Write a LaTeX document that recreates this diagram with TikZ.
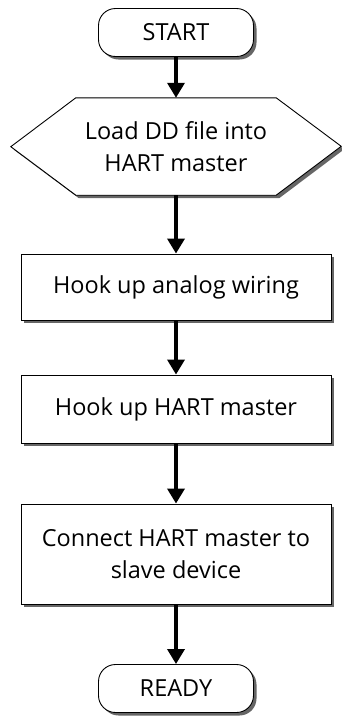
\documentclass[tikz,border=0pt]{standalone}
\usepackage{fontspec}
\setmainfont{Open Sans}
\usetikzlibrary{arrows.meta,shadows,backgrounds}

\tikzset{
  myshadow/.style={drop shadow={shadow xshift=3pt,shadow yshift=-3pt,fill=black!60,opacity=1}},
  stepbox/.style={draw,fill=white,line width=0.9pt,minimum width=310pt,align=center,myshadow},
  termbox/.style={draw,fill=white,line width=0.9pt,rounded corners=17pt,minimum width=155pt,minimum height=48pt,myshadow},
  hexbox/.style={draw,fill=white,line width=0.9pt,myshadow},
  flow/.style={line width=3.5pt,-{Triangle[width=17pt,length=15pt]}}
}

\begin{document}
\begin{tikzpicture}[x=1pt,y=-1pt,font=\fontsize{23.5}{32}\selectfont]
\useasboundingbox (0,0) rectangle (341,716);

\node[termbox] (start) at (176,32.5) {START};
\node[minimum width=200pt,minimum height=97pt,align=center] (load) at (176,146.5) {Load DD file into\\HART master};
\node[stepbox,minimum height=66pt] (wiring) at (176,287) {Hook up analog wiring};
\node[stepbox,minimum height=68pt] (hart) at (176,409) {Hook up HART master};
\node[stepbox,minimum height=100pt] (connect) at (176,554) {Connect HART master to\\slave device};
\node[termbox] (ready) at (176,688.5) {READY};

\begin{pgfonlayer}{background}
\draw[hexbox] (load.north west) -- (load.north east) -- ++(65pt,-48.5pt)
  -- (load.south east) -- (load.south west) -- ++(-65pt,48.5pt) -- cycle;
\end{pgfonlayer}

\draw[flow] (start) -- (load.north);
\draw[flow] (load.south) -- (wiring);
\draw[flow] (wiring) -- (hart);
\draw[flow] (hart) -- (connect);
\draw[flow] (connect) -- (ready);
\end{tikzpicture}
\end{document}
